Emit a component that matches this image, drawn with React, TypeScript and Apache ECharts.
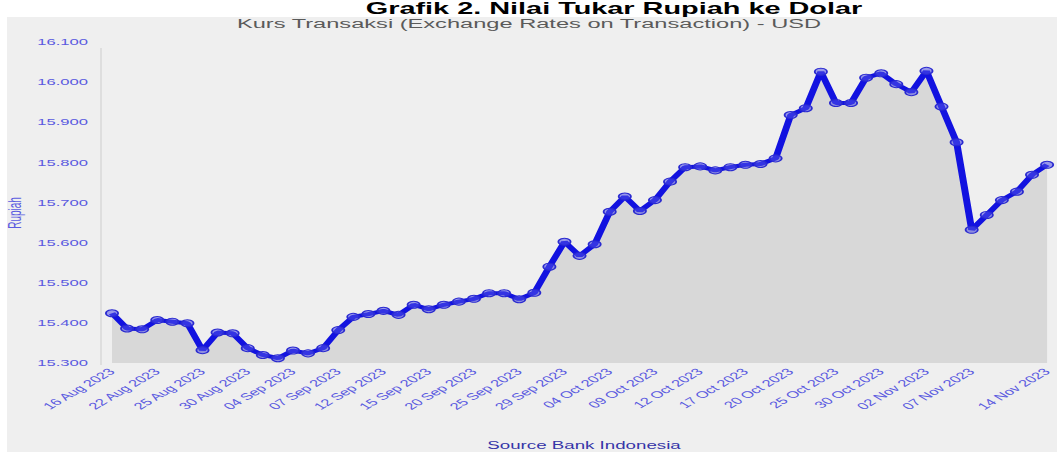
import React, { useEffect, useRef } from "react";
import * as echarts from "echarts";

// ---- data ----
const dates: string[] = [
  "16 Aug 2023", "18 Aug 2023", "21 Aug 2023", "22 Aug 2023", "23 Aug 2023", "24 Aug 2023", "25 Aug 2023",
  "28 Aug 2023", "29 Aug 2023", "30 Aug 2023", "31 Aug 2023", "01 Sep 2023", "04 Sep 2023", "05 Sep 2023",
  "06 Sep 2023", "07 Sep 2023", "08 Sep 2023", "11 Sep 2023", "12 Sep 2023", "13 Sep 2023", "14 Sep 2023",
  "15 Sep 2023", "18 Sep 2023", "19 Sep 2023", "20 Sep 2023", "21 Sep 2023", "22 Sep 2023", "25 Sep 2023",
  "26 Sep 2023", "27 Sep 2023", "29 Sep 2023", "02 Oct 2023", "03 Oct 2023", "04 Oct 2023", "05 Oct 2023",
  "06 Oct 2023", "09 Oct 2023", "10 Oct 2023", "11 Oct 2023", "12 Oct 2023", "13 Oct 2023", "16 Oct 2023",
  "17 Oct 2023", "18 Oct 2023", "19 Oct 2023", "20 Oct 2023", "23 Oct 2023", "24 Oct 2023", "25 Oct 2023",
  "26 Oct 2023", "27 Oct 2023", "30 Oct 2023", "31 Oct 2023", "01 Nov 2023", "02 Nov 2023", "03 Nov 2023",
  "06 Nov 2023", "07 Nov 2023", "08 Nov 2023", "09 Nov 2023", "10 Nov 2023", "13 Nov 2023", "14 Nov 2023",
];

const rates: number[] = [
  15424, 15386, 15384, 15407, 15403, 15399, 15332,
  15376, 15374, 15337, 15320, 15312, 15331, 15324,
  15337, 15382, 15415, 15422, 15430, 15420, 15445,
  15434, 15445, 15453, 15460, 15474, 15474, 15459,
  15475, 15540, 15602, 15567, 15596, 15677, 15715,
  15679, 15706, 15752, 15788, 15790, 15780, 15788,
  15794, 15796, 15810, 15918, 15935, 16026, 15948,
  15948, 16011, 16022, 15995, 15975, 16028, 15939,
  15850, 15632, 15669, 15706, 15727, 15769, 15794,
];

const shownDateLabels: string[] = [
  "16 Aug 2023", "22 Aug 2023", "25 Aug 2023", "30 Aug 2023", "04 Sep 2023", "07 Sep 2023", "12 Sep 2023",
  "15 Sep 2023", "20 Sep 2023", "25 Sep 2023", "29 Sep 2023", "04 Oct 2023", "09 Oct 2023", "12 Oct 2023",
  "17 Oct 2023", "20 Oct 2023", "25 Oct 2023", "30 Oct 2023", "02 Nov 2023", "07 Nov 2023", "14 Nov 2023",
];

const yTicks: number[] = [15300, 15400, 15500, 15600, 15700, 15800, 15900, 16000, 16100];

const titleText = "Grafik 2. Nilai Tukar Rupiah ke Dolar";
const subtitleText = "Kurs Transaksi (Exchange Rates on Transaction) - USD";
const yAxisName = "Rupiah";
const sourceText = "Source Bank Indonesia";

// ---- layout (the reference is a horizontally stretched picture) ----
const S = 1.75;
const W = 1057 / S;
const H = 452;
const FONT = "'Liberation Sans', Arial, sans-serif";
const LABEL_COLOR = "#5a5ae0";

function fmt(v: number): string {
  const t = Math.floor(v / 1000);
  const r = String(Math.round(v % 1000)).padStart(3, "0");
  return `${t}.${r}`;
}

export default function App() {
  const ref = useRef<HTMLDivElement>(null);

  useEffect(() => {
    document.body.style.margin = "0";
    document.body.style.overflow = "hidden";
    const chart = echarts.init(ref.current!, null, { renderer: "svg", width: W, height: H });
    chart.setOption({
      animation: false,
      backgroundColor: "#efefef",
      textStyle: { fontFamily: FONT },
      grid: { left: 112 / S, right: 1 / S, top: 42, bottom: H - 363, containLabel: false },
      xAxis: {
        type: "category",
        data: dates,
        boundaryGap: false,
        axisLine: { show: false },
        axisTick: { show: false },
        axisLabel: {
          rotate: 45,
          margin: 7,
          fontSize: 9.5,
          color: LABEL_COLOR,
          fontFamily: FONT,
          interval: (_i: number, v: string) => shownDateLabels.includes(v),
        },
        splitLine: { show: false },
      },
      yAxis: {
        type: "value",
        min: yTicks[0],
        max: yTicks[yTicks.length - 1],
        interval: yTicks[1] - yTicks[0],
        axisLine: { show: false },
        axisTick: { show: false },
        splitLine: { show: false },
        axisLabel: {
          margin: 24 / S,
          fontSize: 9.5,
          color: LABEL_COLOR,
          fontFamily: FONT,
          formatter: (v: number) => fmt(v),
        },
      },
      series: [
        {
          type: "line",
          data: rates,
          symbol: "circle",
          symbolSize: 7,
          showSymbol: true,
          showAllSymbol: true,
          lineStyle: { color: "#1212e0", width: 4 },
          itemStyle: { color: "rgba(80,80,230,0.55)", borderColor: "#2a2ad0", borderWidth: 1 },
          areaStyle: { color: "#d8d8d8", opacity: 1, origin: "start" },
          z: 3,
        },
      ],
      graphic: [
        { type: "rect", silent: true, shape: { x: 0, y: 0, width: W, height: 17 }, style: { fill: "#ffffff" } },
        { type: "rect", silent: true, shape: { x: 0, y: 0, width: 7 / S, height: H }, style: { fill: "#ffffff" } },
        {
          type: "line",
          silent: true,
          shape: { x1: 101 / S, y1: 48, x2: 101 / S, y2: 365 },
          style: { stroke: "#dcdcdc", lineWidth: 1 },
        },
        {
          type: "text",
          silent: true,
          x: 614 / S,
          y: 8,
          style: {
            text: titleText,
            font: `bold 16.5px ${FONT}`,
            fill: "#000000",
            align: "center",
            verticalAlign: "middle",
          },
        },
        {
          type: "text",
          silent: true,
          x: 529 / S,
          y: 23,
          style: {
            text: subtitleText,
            font: `13.5px ${FONT}`,
            fill: "#5a5a5a",
            align: "center",
            verticalAlign: "middle",
          },
        },
        {
          type: "text",
          silent: true,
          x: 15 / S,
          y: 213,
          rotation: Math.PI / 2,
          style: {
            text: yAxisName,
            font: `10px ${FONT}`,
            fill: LABEL_COLOR,
            align: "center",
            verticalAlign: "middle",
          },
        },
        {
          type: "text",
          silent: true,
          x: 584 / S,
          y: 445,
          style: {
            text: sourceText,
            font: `10.7px ${FONT}`,
            fill: "#3535a8",
            align: "center",
            verticalAlign: "middle",
          },
        },
      ],
    });
    return () => chart.dispose();
  }, []);

  return (
    <div
      ref={ref}
      style={{
        position: "absolute",
        left: 0,
        top: 0,
        width: W,
        height: H,
        transform: `scaleX(${S})`,
        transformOrigin: "0 0",
      }}
    />
  );
}
